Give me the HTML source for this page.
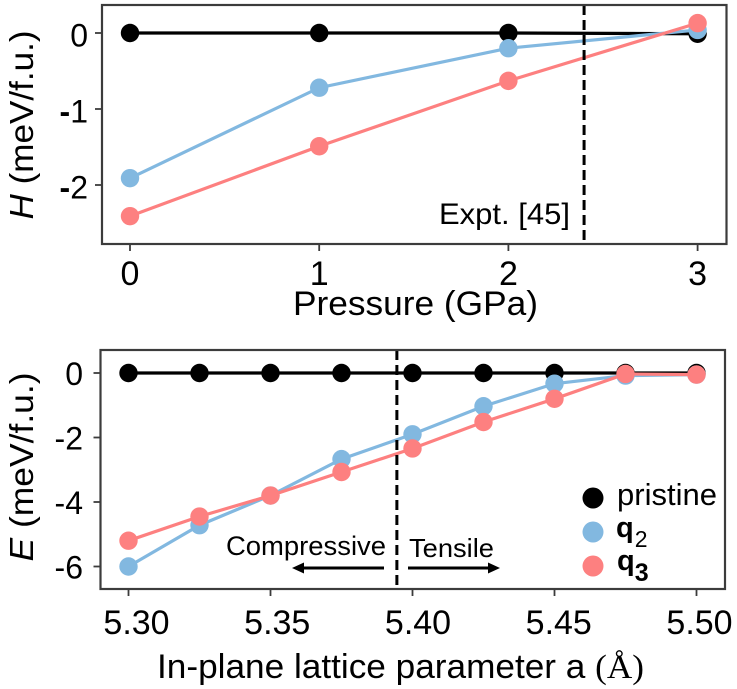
<!DOCTYPE html>
<html lang="en">
<head>
<meta charset="utf-8">
<title>Energy vs pressure and lattice parameter</title>
<style>
html,body{margin:0;padding:0;background:#fff;width:737px;height:689px;overflow:hidden}
svg{display:block}
text{font-family:"Liberation Sans",sans-serif;fill:#000}
</style>
</head>
<body>
<svg id="chart" xmlns="http://www.w3.org/2000/svg" width="737" height="689" viewBox="0 0 737 689">
  <g id="top-panel" style="filter:blur(.35px)"></g>
  <g id="bottom-panel" style="filter:blur(.35px)"></g>
</svg>
<script>
const pressureTicks = [0, 1, 2, 3];
const pressureYTicks = [0, -1, -2];
const pressurePristine = [0, 0, 0, -0.01];
const pressureQ2 = [-1.91, -0.72, -0.2, 0.04];
const pressureQ3 = [-2.41, -1.49, -0.63, 0.13];
const pressureExpt = 2.4;

const latticeValues = [5.30, 5.325, 5.35, 5.375, 5.40, 5.425, 5.45, 5.475, 5.50];
const latticeTicks = [5.30, 5.35, 5.40, 5.45, 5.50];
const latticeYTicks = [0, -2, -4, -6];
const latticePristine = [0, 0, 0, 0, 0, 0, 0, 0, 0];
const latticeQ2 = [-6, -4.72, -3.8, -2.67, -1.9, -1.03, -0.33, -0.08, -0.05];
const latticeQ3 = [-5.2, -4.45, -3.8, -3.07, -2.34, -1.52, -0.8, -0.03, -0.05];
const latticeExpt = 5.3945;

const BLACK = '#000000', BLUE = '#82b8e0', RED = '#fd8080', AXIS = '#3c3c3c';
const NS = 'http://www.w3.org/2000/svg';

function make(parent, tag, attrs, content) {
  const el = document.createElementNS(NS, tag);
  for (const k in attrs) el.setAttribute(k, attrs[k]);
  if (content !== undefined) el.textContent = content;
  parent.appendChild(el);
  return el;
}

/* Top panel axis functions */
const topX = v => 130 + (v - 0) * 189.2;
const topY = v => 33 + (0 - v) * 76;
/* Bottom panel axis functions */
const botX = v => 128.5 + (v - 5.30) * 2840;
const botLabelX = v => 136.5 + (v - 5.30) * 2815;
const botY = v => 373 + (0 - v) * 32.25;

function drawSeries(panel, xs, ys, color, fx, fy, label) {
  const pts = xs.map((x, i) => fx(x).toFixed(2) + ',' + fy(ys[i]).toFixed(2)).join(' ');
  const line = make(panel, 'polyline', {points: pts, fill: 'none', stroke: color, 'stroke-width': 3.2});
  
  
  xs.forEach((x, i) => {
    const c = make(panel, 'circle', {cx: fx(x), cy: fy(ys[i]), r: 9.2, fill: color});
    
    
  });
}

function drawFrame(panel, x0, y0, x1, y1, name) {
  const r = make(panel, 'rect', {x: x0, y: y0, width: x1 - x0, height: y1 - y0, fill: 'none', stroke: AXIS, 'stroke-width': 2.2});
  
  
}

function xTick(panel, x, labelX, yBase, len, baseline, size, str) {
  const t = make(panel, 'line', {x1: x, x2: x, y1: yBase, y2: yBase + len, stroke: AXIS, 'stroke-width': 1.8});
  
  
  const l = make(panel, 'text', {x: labelX, y: baseline, 'font-size': size, 'text-anchor': 'middle'}, str);
  
  
}

function yTick(panel, y, xBase, len, labelX, baseOffset, size, str, boldMinus) {
  const t = make(panel, 'line', {x1: xBase - len, x2: xBase, y1: y, y2: y, stroke: AXIS, 'stroke-width': 1.8});
  
  
  const l = make(panel, 'text', {x: labelX, y: y + baseOffset, 'font-size': size, 'text-anchor': 'end'});
  
  
  if (str[0] === '-') {
    make(l, 'tspan', boldMinus ? {'font-weight': 'bold'} : {}, '-');
    make(l, 'tspan', {}, str.slice(1));
  } else {
    make(l, 'tspan', {}, str);
  }
}

function yTitle(panel, italic, cy, baseX, width) {
  const t = make(panel, 'text', {transform: 'translate(' + baseX + ',' + cy + ') rotate(-90)', 'font-size': 33, 'text-anchor': 'middle', textLength: width, lengthAdjust: 'spacingAndGlyphs'});
  
  
  make(t, 'tspan', {'font-style': 'italic'}, italic);
  make(t, 'tspan', {}, ' (meV/f.u.)');
}

function vDash(panel, x, y0, y1) {
  const d = make(panel, 'line', {x1: x, x2: x, y1: y0, y2: y1, stroke: '#000', 'stroke-width': 3, 'stroke-dasharray': '10 5'});
  
  
}

function arrow(panel, x0, x1, y, name) {
  const dir = x1 > x0 ? 1 : -1;
  const s = make(panel, 'line', {x1: x0, x2: x1 - dir * 8, y1: y, y2: y, stroke: '#000', 'stroke-width': 3});
  
  
  const h = make(panel, 'polygon', {points: x1 + ',' + y + ' ' + (x1 - dir * 12) + ',' + (y - 5.5) + ' ' + (x1 - dir * 12) + ',' + (y + 5.5), fill: '#000'});
  
  
}

/* ===== Top panel ===== */
const top_ = document.getElementById('top-panel');
pressureTicks.forEach(v => xTick(top_, topX(v), topX(v), 244, 7, 285, 34, String(v)));
pressureYTicks.forEach(v => yTick(top_, topY(v), 102, 7, 88, 13.5, 32, String(v), true));
drawSeries(top_, pressureTicks, pressurePristine, BLACK, topX, topY, 'pristine');
drawSeries(top_, pressureTicks, pressureQ2, BLUE, topX, topY, 'q2');
drawSeries(top_, pressureTicks, pressureQ3, RED, topX, topY, 'q3');
vDash(top_, topX(pressureExpt), 5, 244);
drawFrame(top_, 102, 5, 726.5, 244, 'pressure-plot-frame');
yTitle(top_, 'H', 125, 33, 189);

const exptLabel = make(top_, 'text', {x: 439, y: 224, 'font-size': 30, textLength: 131, lengthAdjust: 'spacingAndGlyphs'}, 'Expt. [45]');



const pressureTitle = make(top_, 'text', {x: 293, y: 315, 'font-size': 34, textLength: 245, lengthAdjust: 'spacingAndGlyphs'}, 'Pressure (GPa)');



/* ===== Bottom panel ===== */
const bot = document.getElementById('bottom-panel');
latticeTicks.forEach(v => xTick(bot, botX(v), botLabelX(v), 589, 7, 634, 34, v.toFixed(2)));
latticeYTicks.forEach(v => yTick(bot, botY(v), 100.5, 7, 83, 12, 32, String(v), false));
drawSeries(bot, latticeValues, latticePristine, BLACK, botX, botY, 'pristine');
drawSeries(bot, latticeValues, latticeQ2, BLUE, botX, botY, 'q2');
drawSeries(bot, latticeValues, latticeQ3, RED, botX, botY, 'q3');
vDash(bot, botX(latticeExpt), 350, 589);
drawFrame(bot, 100.5, 350, 725, 589, 'lattice-plot-frame');
yTitle(bot, 'E', 467, 33, 189);

const compText = make(bot, 'text', {x: 226, y: 555, 'font-size': 27, textLength: 160, lengthAdjust: 'spacingAndGlyphs'}, 'Compressive');


const tensText = make(bot, 'text', {x: 409, y: 557, 'font-size': 26, textLength: 85, lengthAdjust: 'spacingAndGlyphs'}, 'Tensile');


arrow(bot, 384, 292, 568, 'compressive-arrow');
arrow(bot, 408, 500, 568, 'tensile-arrow');

const latticeTitle = make(bot, 'text', {x: 157, y: 678, 'font-size': 34, textLength: 487, lengthAdjust: 'spacingAndGlyphs'});


make(latticeTitle, 'tspan', {}, 'In-plane lattice parameter a ');
make(latticeTitle, 'tspan', {'font-family': '"Liberation Serif",serif'}, '(Å)');

/* Legend */
const legendDot1 = make(bot, 'circle', {cx: 593, cy: 498, r: 10.5, fill: BLACK});


const legendDot2 = make(bot, 'circle', {cx: 593, cy: 532, r: 10.5, fill: BLUE});


const legendDot3 = make(bot, 'circle', {cx: 593, cy: 566, r: 10.5, fill: RED});



const legend1 = make(bot, 'text', {x: 617, y: 505, 'font-size': 31, textLength: 100, lengthAdjust: 'spacingAndGlyphs'}, 'pristine');



const legend2 = make(bot, 'text', {x: 616, y: 537, 'font-size': 29});


make(legend2, 'tspan', {'font-weight': 'bold'}, 'q');
make(legend2, 'tspan', {'font-size': 23, dx: 1, dy: 10}, '2');

const legend3 = make(bot, 'text', {x: 617, y: 570, 'font-size': 29});


make(legend3, 'tspan', {'font-weight': 'bold'}, 'q');
make(legend3, 'tspan', {'font-size': 25, 'font-weight': 'bold', dy: 11}, '3');
</script>
</body>
</html>
